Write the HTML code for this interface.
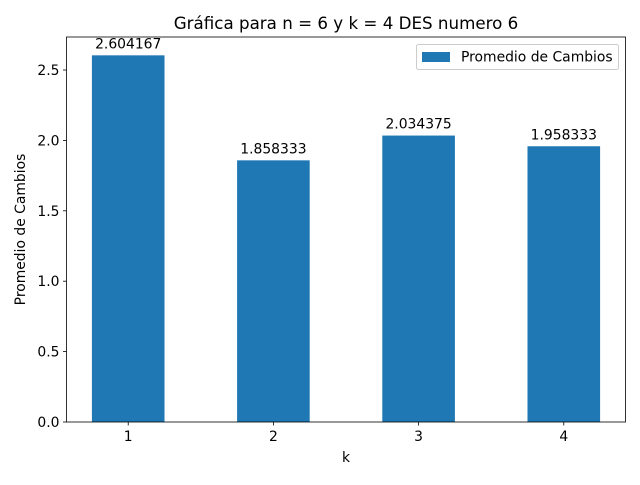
<!DOCTYPE html>
<html><head><meta charset="utf-8"><style>
body{margin:0;background:#fff}
svg{font-family:"DejaVu Sans","Liberation Sans",sans-serif}
</style></head><body>
<svg id="chart" width="640" height="480" viewBox="0 0 640 480">
<rect width="640" height="480" fill="#fff"/>
<text x="346" y="29" font-size="16.7" text-anchor="middle">Gráfica para n = 6 y k = 4 DES numero 6</text>
<g id="bars"></g>
<g id="axes"></g>
<text x="346" y="462" font-size="13.9" text-anchor="middle">k</text>
<text transform="translate(25,229.5) rotate(-90)" font-size="13.9" text-anchor="middle">Promedio de Cambios</text>
<g>
<rect x="416.5" y="44.5" width="202" height="25" fill="#fff" stroke="#ccc" rx="2"/>
<rect x="422" y="52" width="28" height="10" fill="#1f77b4"/>
<text x="461" y="61.5" font-size="13.9">Promedio de Cambios</text>
</g>
</svg>
<script>
const categories = ["1","2","3","4"];
const values = [2.604167, 1.858333, 2.034375, 1.958333];
const valueLabels = ["2.604167","1.858333","2.034375","1.958333"];
const yTicks = [0.0,0.5,1.0,1.5,2.0,2.5];
const yTickLabels = ["0.0","0.5","1.0","1.5","2.0","2.5"];

const L=66.5,R=625.5,T=37,B=422;
const xmin=-0.425,xmax=categories.length-1+0.425;
const ymax=Math.max(...values)*1.05;
const xs=i=>L+(i-xmin)/(xmax-xmin)*(R-L);
const ys=v=>B-v/ymax*(B-T);
const NS="http://www.w3.org/2000/svg";
const bars=document.getElementById('bars'),axes=document.getElementById('axes');
function mk(tag,attrs,parent,text){const e=document.createElementNS(NS,tag);for(const k in attrs)e.setAttribute(k,attrs[k]);if(text!==undefined)e.textContent=text;parent.appendChild(e);return e;}
const bw=xs(0.25)-xs(0);
values.forEach((v,i)=>{
  const r=mk('rect',{x:xs(i)-bw,y:ys(v),width:2*bw,height:B-ys(v),fill:'#1f77b4'},bars);
  
  
  const t=mk('text',{x:xs(i),y:ys(v)-7,'font-size':13.9,'text-anchor':'middle'},bars,valueLabels[i]);
  
  
  const tk=mk('line',{x1:xs(i),x2:xs(i),y1:B,y2:B+3.5,stroke:'#000','stroke-width':0.8},axes);
  
  
  const tl=mk('text',{x:xs(i),y:B+19,'font-size':13.9,'text-anchor':'middle'},axes,categories[i]);
  
  
});
yTicks.forEach((v,i)=>{
  const tk=mk('line',{x1:L-3.5,x2:L,y1:ys(v),y2:ys(v),stroke:'#000','stroke-width':0.8},axes);
  
  
  const tl=mk('text',{x:L-7,y:ys(v)+5,'font-size':13.9,'text-anchor':'end'},axes,yTickLabels[i]);
  
  
});
const fr=mk('rect',{x:L,y:T,width:R-L,height:B-T,fill:'none',stroke:'#000','stroke-width':0.8},axes);


</script>
</body></html>
